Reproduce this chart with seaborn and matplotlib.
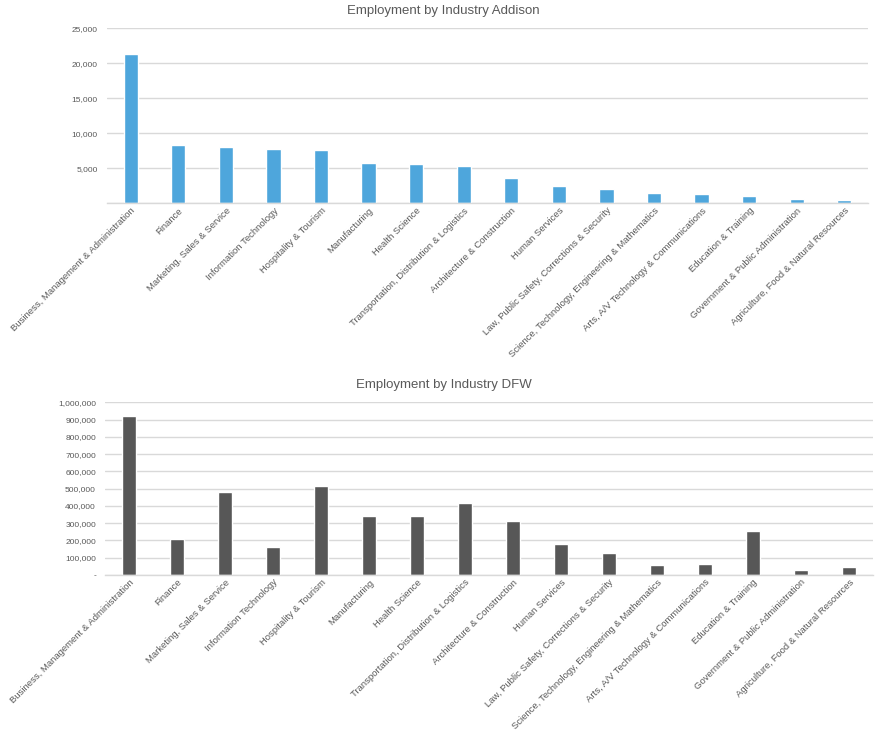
import matplotlib
matplotlib.use("Agg")
import matplotlib.pyplot as plt
import seaborn as sns
import pandas as pd
from matplotlib.ticker import FuncFormatter

industries = [
    "Business, Management & Administration",
    "Finance",
    "Marketing, Sales & Service",
    "Information Technology",
    "Hospitality & Tourism",
    "Manufacturing",
    "Health Science",
    "Transportation, Distribution & Logistics",
    "Architecture & Construction",
    "Human Services",
    "Law, Public Safety, Corrections & Security",
    "Science, Technology, Engineering & Mathematics",
    "Arts, A/V Technology & Communications",
    "Education & Training",
    "Government & Public Administration",
    "Agriculture, Food & Natural Resources",
]
addison = [21330, 8330, 8045, 7760, 7620, 5760, 5620, 5330, 3620, 2480,
           2050, 1475, 1330, 1045, 620, 475]
dfw = [920850, 208500, 480700, 162200, 515400, 341700, 341700, 417000,
       312700, 179500, 127400, 57900, 63700, 254800, 29000, 46300]

addison_ticks = [0, 5000, 10000, 15000, 20000, 25000]
dfw_ticks = list(range(0, 1000001, 100000))

sns.set_theme(style="white")
plt.rcParams['font.family'] = ['Liberation Sans', 'DejaVu Sans']

fig = plt.figure(figsize=(8.87, 7.36), dpi=100)
pos1 = [0.1206, 0.7238, 0.858, 0.2377]
pos2 = [0.1184, 0.2188, 0.8658, 0.2346]
ax1 = fig.add_axes(pos1)
ax2 = fig.add_axes(pos2)

df1 = pd.DataFrame({"Industry": industries, "Employment": addison})
df2 = pd.DataFrame({"Industry": industries, "Employment": dfw})

sns.barplot(data=df1, x="Industry", y="Employment", color="#4EA6DC",
            saturation=1, width=0.3, ax=ax1)
sns.barplot(data=df2, x="Industry", y="Employment", color="#575757",
            saturation=1, width=0.3, ax=ax2)

text_col = "#595959"

def fmt_top(v, pos):
    return "" if v == 0 else f"{int(v):,}"

def fmt_bot(v, pos):
    return "-" if v == 0 else f"{int(v):,}"

for ax, pos, ticks, fmt, title in [
    (ax1, pos1, addison_ticks, fmt_top, "Employment by Industry Addison"),
    (ax2, pos2, dfw_ticks, fmt_bot, "Employment by Industry DFW"),
]:
    ax.set_xlim(-0.5, len(industries) - 0.5)
    ax.set_ylim(ticks[0], ticks[-1])
    ax.set_yticks(ticks)
    ax.yaxis.set_major_formatter(FuncFormatter(fmt))
    ax.grid(axis="y", color="#D9D9D9", linewidth=1)
    ax.set_axisbelow(True)
    for s in ["top", "right", "left"]:
        ax.spines[s].set_visible(False)
    ax.spines["bottom"].set_color("#D9D9D9")
    ax.spines["bottom"].set_linewidth(1)
    ax.set_xlabel("")
    ax.set_ylabel("")
    ax.tick_params(axis="y", labelsize=6, colors=text_col, length=0, pad=6.5)
    ax.tick_params(axis="x", labelsize=6.8, colors=text_col, length=0, pad=2)
    ax.set_xticks(range(len(industries)))
    ax.set_xticklabels(industries, rotation=45, ha="right",
                       rotation_mode="anchor")
    tx = (0.5 - pos[0]) / pos[2]
    ax.set_title(title, fontsize=9.5, color=text_col, pad=10, x=tx)

fig.savefig("out.png", dpi=100, facecolor="white")
